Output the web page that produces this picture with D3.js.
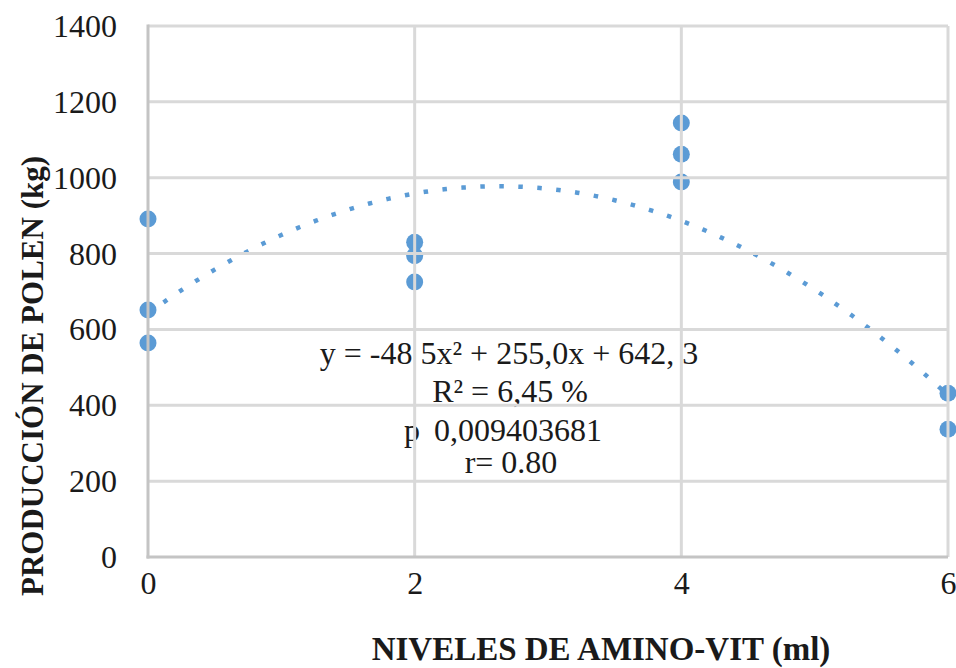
<!DOCTYPE html>
<html lang="es">
<head>
    <meta charset="UTF-8">
    <script src="https://d3js.org/d3.v7.min.js"></script>
    <title>Producción de polen</title>
    <style>
        body { margin: 0; background: #fff; }
        text { font-family: 'Liberation Serif', 'Times New Roman', serif; fill: #1a1a1a; }
        text.tick { font-size: 32px; }
        text.title { font-size: 33px; font-weight: bold; }
        text.ytitle { font-size: 31px; font-weight: bold; }
        text.note { font-size: 32px; }
    </style>
</head>
<body>
<svg height="668" width="956"></svg>
<script>
    const width = 956, height = 668;

    // ticks
    const xTicks = [0, 2, 4, 6];
    const yTicks = [0, 200, 400, 600, 800, 1000, 1200, 1400];

    // observations: dose of Amino-Vit (ml) and pollen produced (kg)
    const dose   = [0, 0, 0, 2, 2, 2, 4, 4, 4, 6, 6];
    const pollen = [891, 651, 564, 830, 794, 725, 1144, 1062, 989, 432, 337];

    // polynomial trendline shown on the chart: c0 + c1 x + c2 x^2
    const trendCoef = [642.3, 255.0, -48.5];

    const noteEq = "y = -48 5x² + 255,0x + 642, 3";
    const noteR2 = "R² = 6,45 %";
    const noteP  = "0,009403681";
    const noteR  = "r= 0.80";

    const x = d3.scaleLinear().domain([0, 6]).range([148, 948]);
    const y = d3.scaleLinear().domain([0, 1400]).range([557, 26]);

    const svg = d3.select("svg");
    const blue = "#5b9bd5";

    // points
    svg.append("g").selectAll("circle")
        .data(dose.map((d, i) => [d, pollen[i]]))
        .enter().append("circle")
        .attr("cx", d => x(d[0])).attr("cy", d => y(d[1]))
        .attr("r", 8.5)
        .style("fill", blue);

    // trendline
    const poly = t => trendCoef[0] + trendCoef[1] * t + trendCoef[2] * t * t;
    const line = d3.line().x(t => x(t)).y(t => y(poly(t)));
    svg.append("path")
        .attr("d", line(d3.range(0, 6.001, 0.02)))
        .style("fill", "none").style("stroke", blue)
        .style("stroke-width", 4.5)
        .style("stroke-dasharray", "4.5 14.5");

    // annotation
    svg.append("text").attr("class", "note").attr("x", 509).attr("y", 364)
        .attr("text-anchor", "middle").text(noteEq);
    svg.append("text").attr("class", "note").attr("x", 510).attr("y", 402)
        .attr("text-anchor", "middle").text(noteR2);
    svg.append("text").attr("class", "note").attr("x", 404).attr("y", 441)
        .text("p");
    svg.append("text").attr("class", "note").attr("x", 518).attr("y", 441)
        .attr("text-anchor", "middle").text(noteP);
    svg.append("text").attr("class", "note").attr("x", 511).attr("y", 473)
        .attr("text-anchor", "middle").text(noteR);

    // gridlines on top, as in the original
    const grid = svg.append("g").style("stroke", "#d9d9d9").style("stroke-width", 3);
    grid.selectAll("line.h").data(yTicks.filter(v => v > 0)).enter().append("line")
        .attr("x1", x(0)).attr("x2", x(6)).attr("y1", y).attr("y2", y);
    grid.selectAll("line.v").data(xTicks.filter(v => v > 0)).enter().append("line")
        .attr("x1", x).attr("x2", x).attr("y1", y(0)).attr("y2", y(1400));

    // axis lines
    const axisLine = svg.append("g").style("stroke", "#c4c4c4").style("stroke-width", 3);
    axisLine.append("line").attr("x1", x(0)).attr("x2", x(0)).attr("y1", y(0) + 1.5).attr("y2", y(1400) - 1.5);
    axisLine.append("line").attr("x1", x(0) - 1.5).attr("x2", x(6)).attr("y1", y(0)).attr("y2", y(0));

    // tick labels
    const yAxis = d3.axisLeft(y).tickValues(yTicks).tickFormat(d3.format("d")).tickSize(0).tickPadding(31);
    const xAxis = d3.axisBottom(x).tickValues(xTicks).tickFormat(d3.format("d")).tickSize(0).tickPadding(12);
    const gy = svg.append("g").attr("transform", `translate(${x(0)},0)`).call(yAxis);
    const gx = svg.append("g").attr("transform", `translate(0,${y(0)})`).call(xAxis);
    [gy, gx].forEach(g => {
        g.select(".domain").remove();
        g.selectAll("text").attr("class", "tick").attr("fill", null);
        g.attr("font-family", null).attr("font-size", null);
    });
    gy.selectAll("text").attr("dy", "0.33em");
    gx.selectAll("text").attr("dy", "0.78em");

    // axis titles
    svg.append("text").attr("class", "title")
        .attr("x", 601).attr("y", 660).attr("text-anchor", "middle")
        .text("NIVELES DE AMINO-VIT (ml)");
    svg.append("text").attr("class", "ytitle")
        .attr("transform", "translate(43,376) rotate(-90)")
        .attr("text-anchor", "middle")
        .text("PRODUCCIÓN DE POLEN (kg)");
</script>
</body>
</html>
